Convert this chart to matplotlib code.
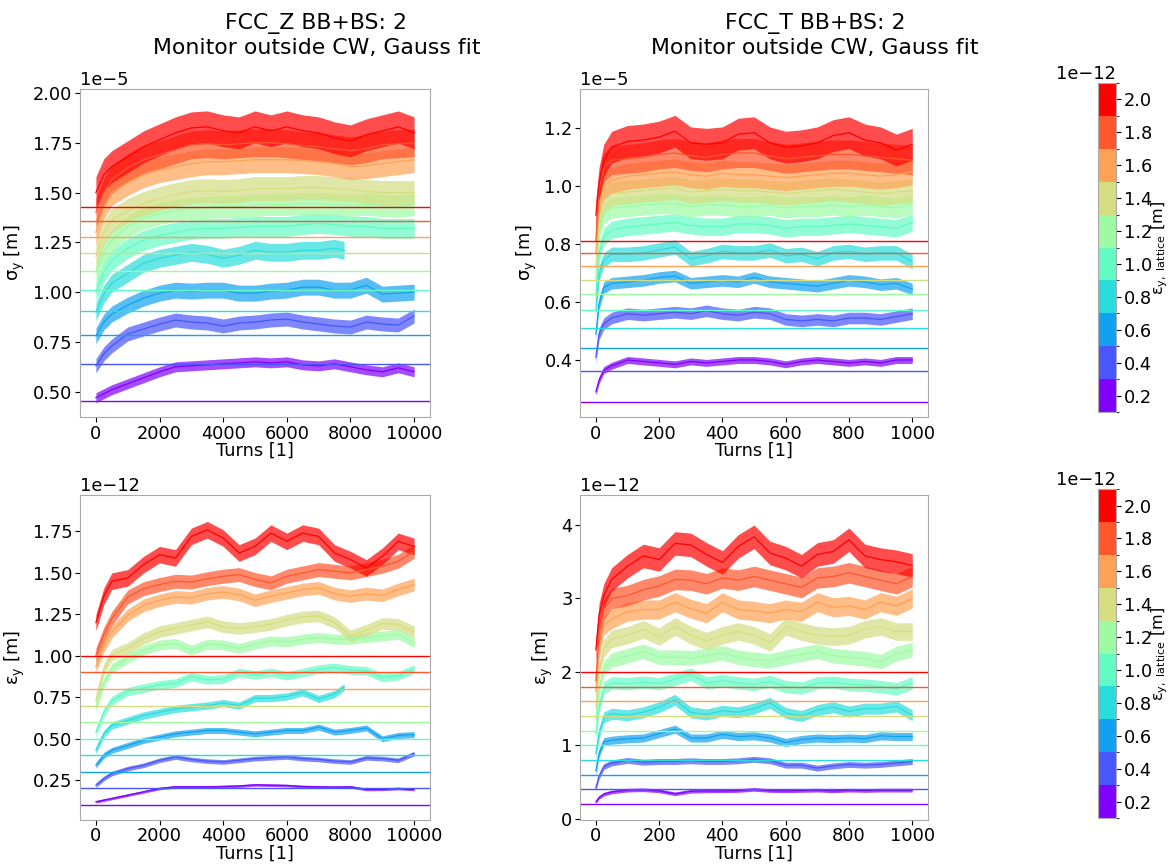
import numpy as np
import matplotlib
matplotlib.use("Agg")
import matplotlib.pyplot as plt
from matplotlib import cm
from matplotlib.colors import ListedColormap, BoundaryNorm, Normalize
from matplotlib.ticker import MultipleLocator

plt.rcParams['mathtext.default'] = 'regular'

# lattice emittances (colour key), units of 1e-12 m
eps_lattice = [0.2, 0.4, 0.6, 0.8, 1.0, 1.2, 1.4, 1.6, 1.8, 2.0]

# reference (lattice) lines per panel
sig_z_lattice = [0.452, 0.639, 0.783, 0.904, 1.011, 1.107, 1.196, 1.278, 1.356, 1.429]  # 1e-5
sig_t_lattice = [0.256, 0.362, 0.443, 0.512, 0.572, 0.627, 0.677, 0.724, 0.768, 0.810]  # 1e-5
eps_z_lattice = [0.1, 0.2, 0.3, 0.4, 0.5, 0.6, 0.7, 0.8, 0.9, 1.0]                      # 1e-12
eps_t_lattice = [0.2, 0.4, 0.6, 0.8, 1.0, 1.2, 1.4, 1.6, 1.8, 2.0]                      # 1e-12

# turn grids
turns_z = [0, 250, 500, 1000, 1500, 2000, 2500, 3000, 3500, 4000, 4500, 5000,
           5500, 6000, 6500, 7000, 7500, 8000, 8500, 9000, 9500, 10000]
turns_z_short = [0, 250, 500, 1000, 1500, 2000, 2500, 3000, 3500, 4000, 4500,
                 5000, 5500, 6000, 6500, 7000, 7500, 7800]  # the 0.8 run stopped early
turns_t = [0, 10, 25, 50, 100, 150, 200, 250, 300, 350, 400, 450, 500, 550,
           600, 650, 700, 750, 800, 850, 900, 950, 1000]

# FCC_Z sigma_y [1e-5 m], one list per lattice emittance (0.2 ... 2.0)
sig_z = [
    [0.47, 0.49, 0.51, 0.54, 0.57, 0.60, 0.625, 0.63, 0.635, 0.64, 0.645, 0.65, 0.645, 0.65, 0.635, 0.63, 0.64, 0.625, 0.61, 0.60, 0.62, 0.60],
    [0.63, 0.69, 0.73, 0.79, 0.815, 0.84, 0.86, 0.85, 0.845, 0.83, 0.845, 0.85, 0.86, 0.865, 0.85, 0.84, 0.83, 0.825, 0.85, 0.84, 0.835, 0.88],
    [0.78, 0.85, 0.89, 0.935, 0.97, 0.995, 1.01, 1.005, 1.01, 1.01, 0.995, 0.995, 1.005, 1.01, 1.025, 1.025, 1.01, 1.01, 1.035, 0.99, 0.995, 1.0],
    [0.90, 0.99, 1.045, 1.095, 1.145, 1.17, 1.185, 1.2, 1.19, 1.17, 1.185, 1.21, 1.2, 1.2, 1.21, 1.21, 1.22, 1.21],
    [1.0, 1.1, 1.16, 1.22, 1.26, 1.285, 1.30, 1.315, 1.32, 1.32, 1.325, 1.33, 1.33, 1.33, 1.34, 1.345, 1.34, 1.33, 1.33, 1.32, 1.32, 1.32],
    [1.10, 1.2, 1.26, 1.33, 1.37, 1.395, 1.41, 1.42, 1.425, 1.43, 1.43, 1.435, 1.44, 1.44, 1.445, 1.445, 1.44, 1.435, 1.44, 1.435, 1.43, 1.44],
    [1.18, 1.3, 1.36, 1.41, 1.445, 1.47, 1.49, 1.505, 1.51, 1.505, 1.51, 1.52, 1.52, 1.52, 1.525, 1.525, 1.52, 1.515, 1.505, 1.5, 1.5, 1.5],
    [1.30, 1.43, 1.50, 1.55, 1.59, 1.615, 1.63, 1.645, 1.655, 1.655, 1.66, 1.665, 1.665, 1.665, 1.66, 1.655, 1.645, 1.63, 1.635, 1.645, 1.655, 1.665],
    [1.40, 1.5, 1.565, 1.625, 1.665, 1.69, 1.715, 1.74, 1.745, 1.74, 1.745, 1.75, 1.75, 1.745, 1.735, 1.73, 1.72, 1.71, 1.72, 1.74, 1.745, 1.75],
    [1.50, 1.59, 1.63, 1.68, 1.73, 1.765, 1.80, 1.825, 1.83, 1.81, 1.80, 1.83, 1.81, 1.83, 1.81, 1.80, 1.775, 1.76, 1.79, 1.81, 1.83, 1.80],
]
sig_z_spread = [0.025, 0.035, 0.04, 0.045, 0.05, 0.055, 0.06, 0.065, 0.07, 0.08]

# FCC_T sigma_y [1e-5 m]
sig_t = [
    [0.29, 0.33, 0.365, 0.38, 0.40, 0.395, 0.39, 0.385, 0.395, 0.39, 0.395, 0.40, 0.40, 0.395, 0.385, 0.395, 0.40, 0.395, 0.39, 0.395, 0.39, 0.40, 0.40],
    [0.41, 0.49, 0.525, 0.545, 0.56, 0.555, 0.56, 0.565, 0.56, 0.57, 0.56, 0.555, 0.565, 0.56, 0.54, 0.535, 0.54, 0.535, 0.545, 0.545, 0.54, 0.55, 0.56],
    [0.49, 0.595, 0.65, 0.665, 0.67, 0.675, 0.685, 0.69, 0.665, 0.67, 0.675, 0.67, 0.685, 0.67, 0.665, 0.66, 0.655, 0.665, 0.675, 0.67, 0.66, 0.665, 0.645],
    [0.57, 0.70, 0.745, 0.765, 0.765, 0.77, 0.78, 0.79, 0.75, 0.76, 0.775, 0.77, 0.77, 0.78, 0.76, 0.765, 0.75, 0.77, 0.775, 0.765, 0.77, 0.77, 0.74],
    [0.63, 0.77, 0.825, 0.85, 0.86, 0.865, 0.87, 0.875, 0.865, 0.86, 0.86, 0.87, 0.87, 0.865, 0.855, 0.86, 0.86, 0.865, 0.87, 0.865, 0.86, 0.855, 0.875],
    [0.68, 0.84, 0.905, 0.925, 0.93, 0.935, 0.94, 0.94, 0.93, 0.935, 0.935, 0.93, 0.93, 0.935, 0.925, 0.93, 0.93, 0.935, 0.93, 0.935, 0.93, 0.925, 0.94],
    [0.72, 0.88, 0.95, 0.975, 0.98, 0.985, 0.99, 0.995, 0.98, 0.985, 0.99, 0.985, 0.985, 0.98, 0.975, 0.98, 0.985, 0.99, 0.985, 0.98, 0.975, 0.98, 0.985],
    [0.77, 0.94, 1.0, 1.02, 1.035, 1.04, 1.045, 1.05, 1.04, 1.035, 1.045, 1.04, 1.04, 1.035, 1.03, 1.035, 1.04, 1.045, 1.045, 1.04, 1.035, 1.04, 1.05],
    [0.81, 0.99, 1.065, 1.09, 1.095, 1.1, 1.11, 1.115, 1.105, 1.1, 1.11, 1.115, 1.115, 1.105, 1.095, 1.1, 1.105, 1.11, 1.11, 1.105, 1.1, 1.095, 1.09],
    [0.90, 1.01, 1.09, 1.135, 1.155, 1.16, 1.17, 1.19, 1.15, 1.145, 1.15, 1.18, 1.185, 1.15, 1.135, 1.14, 1.15, 1.175, 1.185, 1.16, 1.15, 1.125, 1.145],
]
sig_t_spread = [0.012, 0.02, 0.02, 0.025, 0.03, 0.035, 0.04, 0.045, 0.05, 0.055]

# FCC_Z eps_y [1e-12 m]
eps_z = [
    [0.12, 0.13, 0.14, 0.16, 0.18, 0.20, 0.21, 0.21, 0.21, 0.212, 0.215, 0.222, 0.22, 0.218, 0.212, 0.21, 0.208, 0.21, 0.194, 0.195, 0.2, 0.194],
    [0.22, 0.26, 0.29, 0.32, 0.34, 0.37, 0.39, 0.375, 0.365, 0.36, 0.37, 0.38, 0.385, 0.39, 0.38, 0.375, 0.365, 0.36, 0.385, 0.38, 0.37, 0.41],
    [0.34, 0.40, 0.43, 0.46, 0.49, 0.51, 0.53, 0.54, 0.55, 0.55, 0.54, 0.53, 0.54, 0.55, 0.55, 0.57, 0.54, 0.55, 0.565, 0.50, 0.52, 0.525],
    [0.43, 0.53, 0.58, 0.61, 0.64, 0.66, 0.68, 0.69, 0.70, 0.715, 0.70, 0.745, 0.745, 0.755, 0.78, 0.74, 0.77, 0.81],
    [0.54, 0.66, 0.73, 0.785, 0.805, 0.825, 0.835, 0.875, 0.855, 0.86, 0.9, 0.885, 0.9, 0.88, 0.9, 0.92, 0.93, 0.915, 0.91, 0.87, 0.88, 0.92],
    [0.69, 0.84, 0.925, 0.985, 1.035, 1.065, 1.075, 1.035, 1.07, 1.065, 1.045, 1.07, 1.09, 1.085, 1.1, 1.11, 1.1, 1.1, 1.11, 1.12, 1.13, 1.08],
    [0.73, 0.92, 1.005, 1.045, 1.105, 1.145, 1.165, 1.185, 1.205, 1.175, 1.165, 1.175, 1.19, 1.215, 1.235, 1.24, 1.2, 1.12, 1.155, 1.195, 1.19, 1.145],
    [0.935, 1.06, 1.145, 1.245, 1.305, 1.335, 1.355, 1.35, 1.375, 1.385, 1.37, 1.335, 1.36, 1.38, 1.4, 1.41, 1.375, 1.36, 1.375, 1.365, 1.4, 1.43],
    [1.005, 1.13, 1.225, 1.355, 1.405, 1.43, 1.45, 1.445, 1.465, 1.48, 1.49, 1.46, 1.44, 1.48, 1.5, 1.52, 1.51, 1.5, 1.52, 1.54, 1.57, 1.63],
    [1.20, 1.36, 1.45, 1.47, 1.55, 1.61, 1.59, 1.72, 1.76, 1.71, 1.62, 1.66, 1.74, 1.69, 1.74, 1.72, 1.62, 1.58, 1.53, 1.60, 1.69, 1.66],
]
eps_z_spread = [0.008, 0.014, 0.018, 0.022, 0.026, 0.03, 0.035, 0.038, 0.042, 0.05]

# FCC_T eps_y [1e-12 m]
eps_t = [
    [0.23, 0.29, 0.335, 0.365, 0.39, 0.395, 0.38, 0.34, 0.375, 0.38, 0.38, 0.385, 0.40, 0.385, 0.38, 0.385, 0.39, 0.38, 0.39, 0.385, 0.39, 0.39, 0.39],
    [0.42, 0.58, 0.71, 0.76, 0.795, 0.77, 0.78, 0.78, 0.79, 0.78, 0.78, 0.79, 0.81, 0.79, 0.73, 0.73, 0.69, 0.72, 0.74, 0.73, 0.74, 0.76, 0.78],
    [0.65, 0.89, 1.05, 1.07, 1.09, 1.1, 1.16, 1.22, 1.1, 1.1, 1.15, 1.12, 1.13, 1.1, 1.04, 1.08, 1.1, 1.09, 1.1, 1.09, 1.13, 1.12, 1.12],
    [0.89, 1.16, 1.38, 1.43, 1.41, 1.45, 1.52, 1.62, 1.45, 1.42, 1.47, 1.45, 1.5, 1.58, 1.44, 1.4, 1.48, 1.52, 1.46, 1.5, 1.5, 1.53, 1.41],
    [1.16, 1.52, 1.78, 1.85, 1.84, 1.86, 1.84, 1.9, 1.97, 1.85, 1.88, 1.85, 1.83, 1.87, 1.8, 1.78, 1.85, 1.86, 1.83, 1.82, 1.8, 1.77, 1.85],
    [1.34, 1.75, 2.05, 2.16, 2.22, 2.28, 2.2, 2.2, 2.19, 2.22, 2.26, 2.2, 2.17, 2.15, 2.2, 2.24, 2.28, 2.22, 2.2, 2.18, 2.14, 2.25, 2.3],
    [1.52, 2.0, 2.32, 2.45, 2.5, 2.58, 2.48, 2.62, 2.5, 2.42, 2.5, 2.55, 2.5, 2.4, 2.62, 2.55, 2.5, 2.48, 2.5, 2.58, 2.62, 2.55, 2.55],
    [1.74, 2.3, 2.63, 2.72, 2.82, 2.85, 2.85, 2.95, 2.86, 2.8, 2.95, 2.85, 2.83, 2.8, 2.85, 2.82, 2.95, 2.88, 2.9, 2.85, 2.95, 2.9, 3.0],
    [1.88, 2.5, 2.85, 3.0, 3.04, 3.12, 3.17, 3.26, 3.25, 3.2, 3.28, 3.25, 3.3, 3.25, 3.2, 3.15, 3.28, 3.3, 3.35, 3.3, 3.25, 3.2, 3.3],
    [2.3, 2.77, 3.04, 3.26, 3.44, 3.58, 3.53, 3.75, 3.73, 3.6, 3.49, 3.71, 3.84, 3.62, 3.55, 3.44, 3.6, 3.64, 3.8, 3.58, 3.53, 3.5, 3.45],
]
eps_t_spread = [0.025, 0.04, 0.055, 0.075, 0.085, 0.1, 0.12, 0.13, 0.14, 0.16]

cmap = plt.get_cmap('rainbow')
norm = Normalize(min(eps_lattice), max(eps_lattice))
colors = [cmap(norm(v)) for v in eps_lattice]

FS = 12.8


def draw_panel(ax, turns, curves, spread, ref_lines, scale, short_idx=None, short_turns=None):
    for i, c in enumerate(curves):
        x = short_turns if (short_idx is not None and i == short_idx) else turns
        y = np.array(c) * scale
        hw = spread[i] * scale
        ax.fill_between(x, y - hw, y + hw, color=colors[i], alpha=0.7, lw=0)
        ax.plot(x, y, color=colors[i], lw=0.9)
    for i, r in enumerate(ref_lines):
        ax.axhline(r * scale, color=colors[i], lw=1)
    ax.set_xlabel('Turns [1]', fontsize=FS, labelpad=-0.5)
    ax.tick_params(labelsize=FS, pad=2)
    ax.yaxis.get_offset_text().set_fontsize(FS)
    for s in ax.spines.values():
        s.set_edgecolor('#aaaaaa')


fig = plt.figure(figsize=(11.73, 8.65), dpi=100)

ax1 = fig.add_axes([0.0682, 0.5179, 0.2984, 0.3792])
ax2 = fig.add_axes([0.4945, 0.5179, 0.2967, 0.3792])
ax3 = fig.add_axes([0.0682, 0.0526, 0.2984, 0.3752])
ax4 = fig.add_axes([0.4945, 0.0526, 0.2967, 0.3752])

draw_panel(ax1, turns_z, sig_z, sig_z_spread, sig_z_lattice, 1e-5, 3, turns_z_short)
draw_panel(ax2, turns_t, sig_t, sig_t_spread, sig_t_lattice, 1e-5)
draw_panel(ax3, turns_z, eps_z, eps_z_spread, eps_z_lattice, 1e-12, 3, turns_z_short)
draw_panel(ax4, turns_t, eps_t, eps_t_spread, eps_t_lattice, 1e-12)

ax1.set_ylim(0.373e-5, 2.02e-5)
ax2.set_ylim(0.203e-5, 1.336e-5)
ax3.set_ylim(0.013e-12, 1.97e-12)
ax4.set_ylim(-0.01e-12, 4.41e-12)
ax1.yaxis.set_major_locator(MultipleLocator(0.25e-5))
ax2.yaxis.set_major_locator(MultipleLocator(0.2e-5))
ax3.yaxis.set_major_locator(MultipleLocator(0.25e-12))
ax4.yaxis.set_major_locator(MultipleLocator(1e-12))
for ax in (ax1, ax3):
    ax.set_xlim(-500, 10500)
for ax in (ax2, ax4):
    ax.set_xlim(-50, 1050)

ax1.set_ylabel('σ$_y$ [m]', fontsize=FS)
ax2.set_ylabel('σ$_y$ [m]', fontsize=FS)
ax3.set_ylabel('ε$_y$ [m]', fontsize=FS)
ax4.set_ylabel('ε$_y$ [m]', fontsize=FS)

ax1.set_title('FCC_Z BB+BS: 2\nMonitor outside CW, Gauss fit', fontsize=15.8, x=0.675, y=1.108, pad=0)
ax2.set_title('FCC_T BB+BS: 2\nMonitor outside CW, Gauss fit', fontsize=15.8, x=0.675, y=1.108, pad=0)

# discrete colour bars
bounds = [v - 0.1 for v in eps_lattice] + [eps_lattice[-1] + 0.1]
bounds = np.array(bounds) * 1e-12
sm = cm.ScalarMappable(norm=BoundaryNorm(bounds, len(eps_lattice)), cmap=ListedColormap(colors))
for rect in ([0.9361, 0.5237, 0.0153, 0.3803], [0.9361, 0.0543, 0.0153, 0.3803]):
    cax = fig.add_axes(rect)
    cb = fig.colorbar(sm, cax=cax, ticks=np.array(eps_lattice) * 1e-12)
    cb.set_label(r'ε$_{y,\ lattice}$ [m]', fontsize=11.5, labelpad=-1.5)
    cb.ax.tick_params(labelsize=FS, pad=2)
    cb.ax.yaxis.get_offset_text().set_fontsize(FS)
    cb.outline.set_edgecolor('#aaaaaa')

fig.savefig('out.png', dpi=100)
